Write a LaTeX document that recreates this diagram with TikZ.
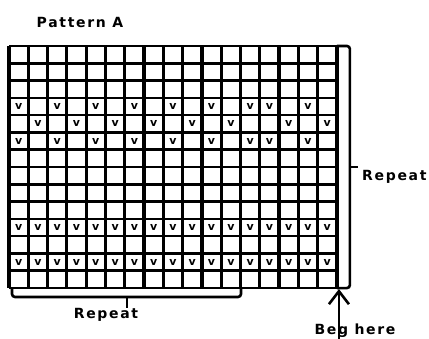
\documentclass[tikz,border=0pt]{standalone}
\usepackage{fontspec}
\setmainfont{DejaVu Sans}
\usetikzlibrary{positioning,arrows.meta,calc}
\newcommand{\gx}{9}
\newcommand{\gy}{46}
\newcommand{\cellw}{19.29}
\newcommand{\cellh}{17.29}
\begin{document}
\begin{tikzpicture}[x=1pt,y=-1pt,
  gridln/.style={line width=2.6pt},
  brc/.style={line width=2.6pt,rounded corners=3pt},
  lbl/.style={font=\bfseries\fontsize{14}{14}\selectfont\addfontfeatures{LetterSpace=12},inner sep=0pt},
  stitch/.style={font=\bfseries\fontsize{11}{11}\selectfont,inner sep=0pt}]
  \useasboundingbox (0,0) rectangle (429,338);
  % ---- title ----
  \node[lbl,anchor=base] (title) at (80,27) {Pattern A};
  % ---- chart grid, 17 x 14 ----
  \foreach \i in {0,...,17}
    \draw[gridln,line width=3.2pt] ({\gx+\i*\cellw},\gy) -- ({\gx+\i*\cellw},{\gy+14*\cellh});
  \foreach \j in {0,...,14}
    \draw[gridln] (\gx,{\gy+\j*\cellh}) -- ({\gx+17*\cellw},{\gy+\j*\cellh});
  \coordinate (gtr) at ({\gx+17*\cellw},\gy);
  \coordinate (gbr) at ({\gx+17*\cellw},{\gy+14*\cellh});
  % ---- slipped stitches ----
  \foreach \r/\cols in {4/{1,3,5,7,9,11,13,14,16},5/{2,4,6,8,10,12,15,17},
                        6/{1,3,5,7,9,11,13,14,16},11/{1,...,17},13/{1,...,17}}
    \foreach \c in \cols
      \node[stitch] (v-\r-\c) at ({\gx+(\c-0.5)*\cellw},{\gy+(\r-0.5)*\cellh}) {v};
  % ---- row repeat ----
  \draw[brc] (gtr) -- ++(13,0) -- ($(gbr)+(13,0)$) -- (gbr);
  \draw[brc] ($(gtr)!0.5!(gbr)+(13,0)$) -- ++(8,0);
  \node[lbl,anchor=base west] (repv) at (362,180) {Repeat};
  % ---- stitch repeat ----
  \draw[brc] (12,287) -- (12,297) -- (241,297) -- (241,287);
  \draw[brc] (127,297) -- (127,308);
  \node[lbl,anchor=base] (reph) at (106,318) {Repeat};
  % ---- start ----
  \node[lbl,anchor=base] (beg) at (355,334) {Beg here};
  \draw[line width=2.6pt,-{Straight Barb[length=13pt,width=20pt]}]
    ($(gbr |- beg.south)+(2,5)$) -- ($(gbr)+(2,1)$);
\end{tikzpicture}
\end{document}
